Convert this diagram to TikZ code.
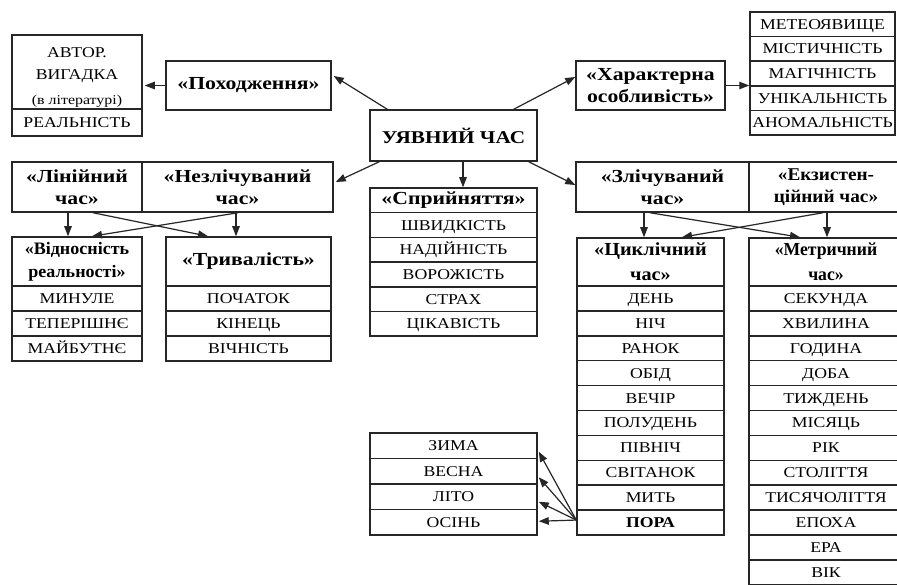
\documentclass[tikz,border=0pt]{standalone}
\usepackage{fontspec}
\setmainfont[FakeStretch=1.18]{Liberation Serif}
\newfontfamily\fnarrow[FakeStretch=0.96]{Liberation Serif}
\newfontfamily\fvid[FakeStretch=1.03]{Liberation Serif}
\newfontfamily\fmid[FakeStretch=1.07]{Liberation Serif}
\newfontfamily\fmidb[FakeStretch=1.10]{Liberation Serif}
\usetikzlibrary{arrows.meta}
\newcommand\rowf{\fontsize{15}{18}\selectfont}
\newcommand\hdrf{\fontsize{18.4}{22}\selectfont\bfseries}
\begin{document}
\begin{tikzpicture}[x=1pt,y=-1pt,
  frame/.style={draw=black!85, line width=1.5pt, inner sep=0pt, align=center},
  box/.style={frame, font=\rowf, text height=10pt, text depth=0pt},
  hdr/.style={frame, font=\hdrf},
  arr/.style={-{Triangle[length=10pt,width=7.5pt]}, line width=1.2pt, draw=black!85}]
\useasboundingbox (0,0) rectangle (897,585);
\fill[white] (0,0) rectangle (897,585);
\clip (0,0) rectangle (897,585);

% top left
\node[frame, minimum width=130pt, minimum height=74pt] (avtor) at (77,72) {};
\node[align=center, inner sep=0pt, font={\rowf\baselineskip=22pt}] (avtortxt) at (77,77)
  {АВТОР.\\ВИГАДКА\\[3pt]{\fontsize{13.5}{16}\selectfont(в літературі)}};
\node[box, minimum width=130pt, minimum height=27pt] (real) at (77,122.5) {РЕАЛЬНІСТЬ};
\node[hdr, minimum width=165pt, minimum height=49pt] (pokh) at (248.5,85.5) {«Походження»};

% centre
\node[hdr, minimum width=167pt, minimum height=51pt, font={\fontsize{18}{22}\selectfont\bfseries}] (main) at (453.5,135.5) {УЯВНИЙ ЧАС};

% top right
\node[hdr, minimum width=149pt, minimum height=49pt] (khar) at (650.5,85.5) {«Характерна\\особливість»};
\foreach [count=\i] \t in {МЕТЕОЯВИЩЕ, МІСТИЧНІСТЬ, МАГІЧНІСТЬ, УНІКАЛЬНІСТЬ, АНОМАЛЬНІСТЬ}
  \node[box, minimum width=145pt, minimum height=24.6pt] (m\i) at (822.5,{12+24.6*(\i-0.5)}) {\t};

% left middle
\node[hdr, minimum width=130pt, minimum height=50pt] (lin) at (77,187) {«Лінійний\\час»};
\node[hdr, minimum width=191pt, minimum height=50pt] (nezl) at (237.5,187) {«Незлічуваний\\час»};
\node[hdr, minimum width=130pt, minimum height=49pt, font={\fvid\fontsize{17.5}{23}\selectfont\bfseries}] (vidn) at (77,261.5) {«Відносність\\реальності»};
\foreach [count=\i] \t in {МИНУЛЕ, ТЕПЕРІШНЄ, МАЙБУТНЄ}
  \node[box, minimum width=130pt, minimum height=25pt] (v\i) at (77,{286+25*(\i-0.5)}) {\t};
\node[hdr, minimum width=165pt, minimum height=49pt] (tryv) at (248.5,261.5) {«Тривалість»};
\foreach [count=\i] \t in {ПОЧАТОК, КІНЕЦЬ, ВІЧНІСТЬ}
  \node[box, minimum width=165pt, minimum height=25pt] (t\i) at (248.5,{286+25*(\i-0.5)}) {\t};

% perception
\node[hdr, minimum width=167pt, minimum height=24.7pt] (spr) at (453.5,200.35) {«Сприйняття»};
\foreach [count=\i] \t in {ШВИДКІСТЬ, НАДІЙНІСТЬ, ВОРОЖІСТЬ, СТРАХ, ЦІКАВІСТЬ}
  \node[box, minimum width=167pt, minimum height=24.7pt] (sp\i) at (453.5,{212.7+24.7*(\i-0.5)}) {\t};

% seasons
\foreach [count=\i] \t in {ЗИМА, ВЕСНА, ЛІТО, ОСІНЬ}
  \node[box, minimum width=167pt, minimum height=25.5pt] (s\i) at (453.5,{433+25.5*(\i-0.5)}) {\t};

% right middle
\node[hdr, minimum width=173pt, minimum height=50pt] (zl) at (662.5,187) {«Злічуваний\\час»};
\node[hdr, minimum width=154pt, minimum height=50pt, font={\fmid\fontsize{18}{22}\selectfont\bfseries}] (ekz) at (826,187) {«Екзистен-\\ційний час»};
\node[hdr, minimum width=147pt, minimum height=48pt, font={\fmidb\fontsize{18.4}{25}\selectfont\bfseries}] (cykl) at (650.5,262) {«Циклічний\\час»};
\foreach [count=\i] \t in {ДЕНЬ, НІЧ, РАНОК, ОБІД, ВЕЧІР, ПОЛУДЕНЬ, ПІВНІЧ, СВІТАНОК, МИТЬ, {\bfseries ПОРА}}
  \node[box, minimum width=147pt, minimum height=24.9pt] (c\i) at (650.5,{286+24.9*(\i-0.5)}) {\t};
\node[hdr, minimum width=154pt, minimum height=48pt, font={\fnarrow\fontsize{18.4}{25}\selectfont\bfseries}] (metr) at (826,262) {«Метричний\\час»};
\foreach [count=\i] \t in {СЕКУНДА, ХВИЛИНА, ГОДИНА, ДОБА, ТИЖДЕНЬ, МІСЯЦЬ, РІК, СТОЛІТТЯ, ТИСЯЧОЛІТТЯ, ЕПОХА, ЕРА, ВІК}
  \node[box, minimum width=154pt, minimum height=24.9pt] (mt\i) at (826,{286+24.9*(\i-0.5)}) {\t};

% connectors
\coordinate (pa) at (pokh.west -| avtor.east);
\draw[arr] (pokh.west) -- ([xshift=2pt]pa);
\draw[arr] ([xshift=18pt]main.north west) -- ([xshift=2pt,yshift=9.5pt]pokh.east);
\draw[arr] ([xshift=-24pt]main.north east) -- ([yshift=8.5pt]khar.west);
\draw[arr] (khar.east) -- (khar.east -| m1.west);
\draw[arr] ([xshift=10pt]main.south west) -- ([xshift=2pt,yshift=5pt]nezl.east);
\draw[arr] ([xshift=9.5pt]main.south) -- ([xshift=9.5pt]spr.north);
\draw[arr] ([xshift=-9pt]main.south east) -- ([yshift=2pt]zl.west);

\draw[arr] ([xshift=-9pt]lin.south) -- ([xshift=-9pt]vidn.north);
\draw[arr] ([xshift=16pt]lin.south) -- ([xshift=-40.5pt]tryv.north);
\draw[arr] ([xshift=-1.5pt]nezl.south) -- ([xshift=-12.5pt]tryv.north);
\draw[arr] ([xshift=0.5pt]nezl.south) -- ([xshift=15pt]vidn.north);

\draw[arr] ([xshift=-18.5pt]zl.south) -- ([xshift=-6.5pt]cykl.north);
\draw[arr] ([xshift=-12.5pt]zl.south) -- ([xshift=-26pt]metr.north);
\draw[arr] ([xshift=1pt]ekz.south) -- ([xshift=1pt]metr.north);
\draw[arr] ([xshift=-3pt]ekz.south) -- ([xshift=31.5pt]cykl.north);

\coordinate (po) at ([yshift=2.5pt]c10.west);
\draw[arr] (po) -- ([xshift=1pt,yshift=-6pt]s1.east);
\draw[arr] (po) -- ([xshift=1pt,yshift=-6pt]s2.east);
\draw[arr] (po) -- ([xshift=1pt,yshift=-5pt]s3.east);
\draw[arr] (po) -- ([xshift=1pt,yshift=1pt]s4.east);
\end{tikzpicture}
\end{document}
